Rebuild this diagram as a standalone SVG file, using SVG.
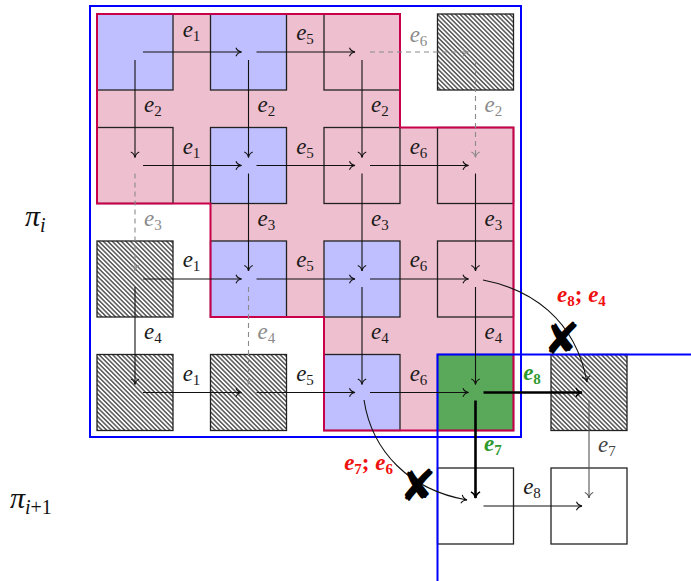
<svg xmlns="http://www.w3.org/2000/svg" width="691" height="581" viewBox="0 0 691 581">
<style>
.sq{stroke:#222;stroke-width:1.3}
.pk{fill:#eebfcf}
.bl{fill:#bfbfff}
.gr{fill:#5aa95a}
.wh{fill:#fff}
.ht{fill:url(#hatch)}
.ar{fill:none;stroke:#111;stroke-width:1.1;marker-end:url(#ah)}
.da{fill:none;stroke:#8a8a8a;stroke-width:1.1;stroke-dasharray:5 4;marker-end:url(#ahg)}
.th{fill:none;stroke:#000;stroke-width:2.6;marker-end:url(#ahk)}
.gy{fill:none;stroke:#555;stroke-width:1.1;marker-end:url(#ahd)}
.cv{fill:none;stroke:#111;stroke-width:1.1;marker-end:url(#ah)}
.fr{fill:none;stroke:#0000ff;stroke-width:2}
.lb{font-family:"Liberation Serif",serif;font-style:italic;font-size:23px;fill:#1a1a1a}
.lg{fill:#8a8a8a}
.lr{font-family:"Liberation Serif",serif;font-style:italic;font-weight:bold;font-size:23px;fill:#f01010}
.lgr{font-family:"Liberation Serif",serif;font-style:italic;font-weight:bold;font-size:23px;fill:#2e9a2e}
.s{font-style:normal;font-size:15px}
.pi{font-family:"Liberation Serif",serif;font-style:italic;font-size:30px;fill:#111}
.x{font-family:"DejaVu Sans",sans-serif;font-size:44px;fill:#000}
</style>
<defs>
<pattern id="hatch" patternUnits="userSpaceOnUse" width="10" height="3.2" patternTransform="rotate(45)">
<rect width="10" height="3.2" fill="#fff"/>
<line x1="0" y1="1.6" x2="10" y2="1.6" stroke="#000" stroke-width="1"/>
</pattern>
<marker id="ah" markerUnits="userSpaceOnUse" markerWidth="12" markerHeight="12" refX="0" refY="0" viewBox="-7 -6 8 12" orient="auto">
<path d="M-5.5,-4.2 C-4.5,-1.6 -1.5,-0.3 0,0 C-1.5,0.3 -4.5,1.6 -5.5,4.2" fill="none" stroke="#111" stroke-width="1.1"/>
</marker>
<marker id="ahg" markerUnits="userSpaceOnUse" markerWidth="12" markerHeight="12" refX="0" refY="0" viewBox="-7 -6 8 12" orient="auto">
<path d="M-5.5,-4.2 C-4.5,-1.6 -1.5,-0.3 0,0 C-1.5,0.3 -4.5,1.6 -5.5,4.2" fill="none" stroke="#8a8a8a" stroke-width="1.1"/>
</marker>
<marker id="ahd" markerUnits="userSpaceOnUse" markerWidth="12" markerHeight="12" refX="0" refY="0" viewBox="-7 -6 8 12" orient="auto">
<path d="M-5.5,-4.2 C-4.5,-1.6 -1.5,-0.3 0,0 C-1.5,0.3 -4.5,1.6 -5.5,4.2" fill="none" stroke="#555" stroke-width="1.1"/>
</marker>
<marker id="ahk" markerUnits="userSpaceOnUse" markerWidth="14" markerHeight="14" refX="0" refY="0" viewBox="-8 -7 10 14" orient="auto">
<path d="M-6,-4.6 C-5,-1.8 -1.6,-0.4 0,0 C-1.6,0.4 -5,1.8 -6,4.6" fill="none" stroke="#000" stroke-width="1.4"/>
</marker>
</defs>

<rect width="691" height="581" fill="#fff"/>

<g id="region">
<path d="M97,14 H400 V127.5 H513.5 V430.5 H324 V317 H210.5 V203.5 H97 Z" class="pk"/>
</g>

<g id="n_0_0"><rect class="sq bl" x="97" y="14" width="76" height="76"/></g>
<g id="n_0_1"><rect class="sq bl" x="210.5" y="14" width="76" height="76"/></g>
<g id="n_0_2"><rect class="sq pk" x="324" y="14" width="76" height="76"/></g>
<g id="n_0_3"><rect class="sq ht" x="437.5" y="14" width="76" height="76"/></g>
<g id="n_1_0"><rect class="sq pk" x="97" y="127.5" width="76" height="76"/></g>
<g id="n_1_1"><rect class="sq bl" x="210.5" y="127.5" width="76" height="76"/></g>
<g id="n_1_2"><rect class="sq pk" x="324" y="127.5" width="76" height="76"/></g>
<g id="n_1_3"><rect class="sq pk" x="437.5" y="127.5" width="76" height="76"/></g>
<g id="n_2_0"><rect class="sq ht" x="97" y="241" width="76" height="76"/></g>
<g id="n_2_1"><rect class="sq bl" x="210.5" y="241" width="76" height="76"/></g>
<g id="n_2_2"><rect class="sq bl" x="324" y="241" width="76" height="76"/></g>
<g id="n_2_3"><rect class="sq pk" x="437.5" y="241" width="76" height="76"/></g>
<g id="n_3_0"><rect class="sq ht" x="97" y="354.5" width="76" height="76"/></g>
<g id="n_3_1"><rect class="sq ht" x="210.5" y="354.5" width="76" height="76"/></g>
<g id="n_3_2"><rect class="sq bl" x="324" y="354.5" width="76" height="76"/></g>
<g id="n_3_3"><rect class="sq gr" x="437.5" y="354.5" width="76" height="76"/></g>
<g id="n_3_4"><rect class="sq ht" x="551" y="354.5" width="76" height="76"/></g>
<g id="n_4_3"><rect class="sq wh" x="437.5" y="468" width="76" height="76"/></g>
<g id="n_4_4"><rect class="sq wh" x="551" y="468" width="76" height="76"/></g>

<g id="region-border">
<path d="M97,14 H400 V127.5 H513.5 V430.5 H324 V317 H210.5 V203.5 H97 Z" fill="none" stroke="#c8004a" stroke-width="2"/>
</g>

<g id="frames">
<rect class="fr" x="90" y="6" width="431" height="431"/>
<path class="fr" d="M437.5,581 V354.5 H691"/>
</g>

<g id="connectors">
<path class="ar" d="M143,52 H241.5"/>
<path class="ar" d="M256.5,52 H355"/>
<path class="da" d="M370,52 H468.5"/>
<path class="ar" d="M143,165.5 H241.5"/>
<path class="ar" d="M256.5,165.5 H355"/>
<path class="ar" d="M370,165.5 H468.5"/>
<path class="ar" d="M143,279 H241.5"/>
<path class="ar" d="M256.5,279 H355"/>
<path class="ar" d="M370,279 H468.5"/>
<path class="ar" d="M143,392.5 H241.5"/>
<path class="ar" d="M256.5,392.5 H355"/>
<path class="ar" d="M370,392.5 H468.5"/>
<path class="th" d="M483.5,392.5 H582"/>
<path class="ar" d="M483.5,506 H582"/>

<path class="ar" d="M135,60 V157.5"/>
<path class="da" d="M135,173.5 V271"/>
<path class="ar" d="M135,287 V384.5"/>
<path class="ar" d="M248.5,60 V157.5"/>
<path class="ar" d="M248.5,173.5 V271"/>
<path class="da" d="M248.5,287 V384.5"/>
<path class="ar" d="M362,60 V157.5"/>
<path class="ar" d="M362,173.5 V271"/>
<path class="ar" d="M362,287 V384.5"/>
<path class="da" d="M475.5,60 V157.5"/>
<path class="ar" d="M475.5,173.5 V271"/>
<path class="ar" d="M475.5,287 V384.5"/>
<path class="th" d="M475.5,400.5 V498"/>
<path class="gy" d="M589,400.5 V498"/>

<path class="cv" d="M483,280 C530,289 575,318 587,382"/>
<path class="cv" d="M364,400 C372,452 410,490 467,500"/>
</g>

<g id="labels">
<text class="lb" x="191.5" y="37" text-anchor="middle">e<tspan class="s" dy="4">1</tspan></text>
<text class="lb" x="305" y="40" text-anchor="middle">e<tspan class="s" dy="4">5</tspan></text>
<text class="lb lg" x="418.5" y="42" text-anchor="middle">e<tspan class="s" dy="4">6</tspan></text>
<text class="lb" x="191.5" y="153.5" text-anchor="middle">e<tspan class="s" dy="4">1</tspan></text>
<text class="lb" x="305" y="153.5" text-anchor="middle">e<tspan class="s" dy="4">5</tspan></text>
<text class="lb" x="418.5" y="153.5" text-anchor="middle">e<tspan class="s" dy="4">6</tspan></text>
<text class="lb" x="191.5" y="267" text-anchor="middle">e<tspan class="s" dy="4">1</tspan></text>
<text class="lb" x="305" y="267" text-anchor="middle">e<tspan class="s" dy="4">5</tspan></text>
<text class="lb" x="418.5" y="267" text-anchor="middle">e<tspan class="s" dy="4">6</tspan></text>
<text class="lb" x="191.5" y="380.5" text-anchor="middle">e<tspan class="s" dy="4">1</tspan></text>
<text class="lb" x="305" y="380.5" text-anchor="middle">e<tspan class="s" dy="4">5</tspan></text>
<text class="lb" x="418.5" y="380.5" text-anchor="middle">e<tspan class="s" dy="4">6</tspan></text>
<text class="lb" x="532" y="494" text-anchor="middle">e<tspan class="s" dy="4">8</tspan></text>

<text class="lb" x="144" y="112">e<tspan class="s" dy="4">2</tspan></text>
<text class="lb" x="257.5" y="112">e<tspan class="s" dy="4">2</tspan></text>
<text class="lb" x="371" y="112">e<tspan class="s" dy="4">2</tspan></text>
<text class="lb lg" x="484.5" y="112">e<tspan class="s" dy="4">2</tspan></text>
<text class="lb lg" x="144" y="225.5">e<tspan class="s" dy="4">3</tspan></text>
<text class="lb" x="257.5" y="225.5">e<tspan class="s" dy="4">3</tspan></text>
<text class="lb" x="371" y="225.5">e<tspan class="s" dy="4">3</tspan></text>
<text class="lb" x="484.5" y="225.5">e<tspan class="s" dy="4">3</tspan></text>
<text class="lb" x="144" y="339">e<tspan class="s" dy="4">4</tspan></text>
<text class="lb lg" x="257.5" y="339">e<tspan class="s" dy="4">4</tspan></text>
<text class="lb" x="371" y="339">e<tspan class="s" dy="4">4</tspan></text>
<text class="lb" x="484.5" y="339">e<tspan class="s" dy="4">4</tspan></text>
<text class="lb" x="598" y="452" style="fill:#444">e<tspan class="s" dy="4">7</tspan></text>

<text class="lgr" x="532" y="380" text-anchor="middle">e<tspan class="s" dy="4">8</tspan></text>
<text class="lgr" x="484" y="451">e<tspan class="s" dy="4">7</tspan></text>

<text class="lr" x="557" y="302">e<tspan class="s" dy="4">8</tspan><tspan dy="-4" style="font-style:normal">; </tspan>e<tspan class="s" dy="4">4</tspan></text>
<text class="lr" x="393" y="470" text-anchor="end">e<tspan class="s" dy="4">7</tspan><tspan dy="-4" style="font-style:normal">; </tspan>e<tspan class="s" dy="4">6</tspan></text>

<text class="x" x="562" y="354" text-anchor="middle">✘</text>
<text class="x" x="418" y="501" text-anchor="middle">✘</text>

<text class="pi" x="25" y="226">π<tspan style="font-size:20px" dy="6">i</tspan></text>
<text class="pi" x="10" y="508">π<tspan style="font-size:20px" dy="6">i</tspan><tspan style="font-style:normal;font-size:20px">+1</tspan></text>
</g>
</svg>
